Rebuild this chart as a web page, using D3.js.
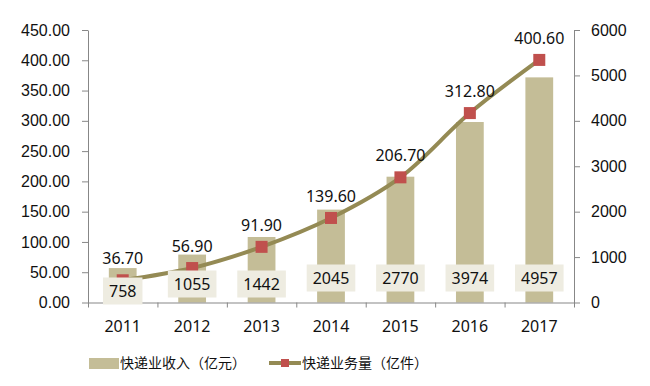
<!DOCTYPE html>
<html><head><meta charset="utf-8">
<script src="https://cdn.jsdelivr.net/npm/d3@7/dist/d3.min.js"></script>
<style>
body{margin:0;background:#fff;}
svg{display:block;font-family:"Noto Sans","Noto Sans CJK SC",sans-serif;}
</style></head>
<body><svg id="c" width="650" height="386"></svg>
<script>
const years = ["2011","2012","2013","2014","2015","2016","2017"];
const barValues = [758,1055,1442,2045,2770,3974,4957];
const lineValues = [36.70,56.90,91.90,139.60,206.70,312.80,400.60];
const leftTicks = [0,50,100,150,200,250,300,350,400,450];
const rightTicks = [0,1000,2000,3000,4000,5000,6000];
const barName = "快递业收入（亿元）";
const lineName = "快递业务量（亿件）";

const svg = d3.select("#c");
const L = 88, R = 574, T = 30, B = 302.5;
const axisCol = "#878787", barCol = "#c4bd97", lineCol = "#948a54", markCol = "#c0504d", boxCol = "#eeece1";

const x = d3.scaleBand().domain(years).range([L, R]).paddingInner(0.6).paddingOuter(0.3);
const yL = d3.scaleLinear().domain([0, 450]).range([B, T]);
const yR = d3.scaleLinear().domain([0, 6000]).range([B, T]);
const xi = d3.scaleLinear().domain([0, years.length]).range([L, R]);

function styleAxis(g){
  g.selectAll("path,line").attr("stroke", axisCol).attr("stroke-width", 1);
  g.selectAll("text").attr("fill", "#111").style("font-size", "16px");
}

// bars
svg.append("g").selectAll("rect").data(barValues).join("rect")
  .attr("x", (d,i) => x(years[i]))
  .attr("width", x.bandwidth())
  .attr("y", d => yR(d))
  .attr("height", d => B - yR(d))
  .attr("fill", barCol);

// axes
svg.append("g").attr("transform", `translate(${L},0)`)
  .call(d3.axisLeft(yL).tickValues(leftTicks).tickFormat(d => d.toFixed(2)).tickSize(6).tickSizeOuter(0).tickPadding(12))
  .call(styleAxis);
svg.append("g").attr("transform", `translate(${R},0)`)
  .call(d3.axisRight(yR).tickValues(rightTicks).tickFormat(d3.format("d")).tickSize(6).tickSizeOuter(0).tickPadding(11))
  .call(styleAxis);
svg.append("g").attr("transform", `translate(0,${B})`)
  .call(d3.axisBottom(xi).tickValues(d3.range(years.length + 1)).tickFormat("").tickSize(5).tickSizeOuter(0))
  .call(styleAxis);
svg.append("g").selectAll("text").data(years).join("text")
  .attr("x", d => x(d) + x.bandwidth()/2).attr("y", 332)
  .attr("text-anchor", "middle").attr("fill", "#111").style("font-size", "16px")
  .text(d => d);

// line
const line = d3.line().x((d,i) => x(years[i]) + x.bandwidth()/2).y(d => yL(d)).curve(d3.curveCatmullRom.alpha(0.5));
svg.append("path").datum(lineValues).attr("d", line)
  .attr("fill", "none").attr("stroke", lineCol).attr("stroke-width", 4);
svg.append("g").selectAll("rect").data(lineValues).join("rect")
  .attr("x", (d,i) => x(years[i]) + x.bandwidth()/2 - 6)
  .attr("y", d => yL(d) - 6).attr("width", 12).attr("height", 12).attr("fill", markCol);
svg.append("g").selectAll("text").data(lineValues).join("text")
  .attr("x", (d,i) => x(years[i]) + x.bandwidth()/2)
  .attr("y", d => yL(d) - 16)
  .attr("text-anchor", "middle").attr("fill", "#111").style("font-size", "16px")
  .text(d => d.toFixed(2));

// bar labels (boxes at base), drawn over the line
const bl = svg.append("g").selectAll("g").data(barValues).join("g")
  .attr("transform", (d,i) => `translate(${x(years[i]) + x.bandwidth()/2},${i === 0 ? 291 : (i < 3 ? 284 : 278)})`);
bl.append("text").attr("text-anchor", "middle").attr("dy", "0.36em")
  .attr("fill", "#111").style("font-size", "16px").text(d => d);
bl.each(function(){
  const g = d3.select(this);
  const w = g.select("text").node().getComputedTextLength();
  g.insert("rect", "text").attr("x", -w/2 - 6).attr("y", -13.5).attr("width", w + 12).attr("height", 27).attr("fill", boxCol);
});

// legend
const lg = svg.append("g").style("font-family", "'Noto Sans CJK SC',sans-serif").style("font-size", "14px");
lg.append("rect").attr("x", 89).attr("y", 358).attr("width", 30).attr("height", 11).attr("fill", barCol);
lg.append("text").attr("x", 120).attr("y", 363).attr("dy", "0.35em").attr("fill", "#111").text(barName);
lg.append("line").attr("x1", 269).attr("x2", 301).attr("y1", 363).attr("y2", 363).attr("stroke", lineCol).attr("stroke-width", 4);
lg.append("rect").attr("x", 281).attr("y", 359).attr("width", 8).attr("height", 8).attr("fill", markCol);
lg.append("text").attr("x", 302).attr("y", 363).attr("dy", "0.35em").attr("fill", "#111").text(lineName);
</script></body></html>
